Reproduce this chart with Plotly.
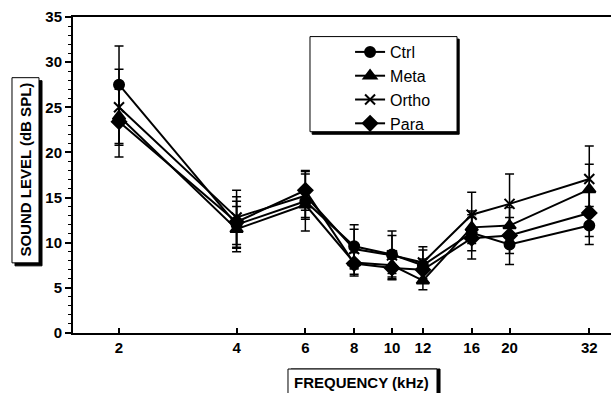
import plotly.graph_objects as go

freq = [2, 4, 6, 8, 10, 12, 16, 20, 32]
x_ticks = [2, 4, 6, 8, 10, 12, 16, 20, 32]
x_tick_labels = ["2", "4", "6", "8", "10", "12", "16", "20", "32"]

ctrl = [27.5, 12.0, 14.6, 9.6, 8.7, 7.5, 11.1, 9.8, 11.9]
ctrl_err = [4.3, 2.6, 3.3, 2.4, 2.1, 1.7, 2.0, 2.2, 2.1]
meta = [24.0, 11.5, 14.2, 7.8, 7.5, 5.8, 11.7, 11.9, 15.9]
meta_err = [3.0, 2.5, 1.6, 1.5, 1.5, 1.0, 1.8, 2.0, 2.8]
ortho = [25.0, 12.8, 15.2, 9.3, 8.6, 7.8, 13.1, 14.3, 17.05]
ortho_err = [4.2, 3.0, 2.4, 2.2, 2.7, 1.75, 2.5, 3.3, 3.65]
para = [23.4, 12.3, 15.8, 7.7, 7.2, 7.0, 10.5, 10.8, 13.3]
para_err = [3.9, 2.8, 2.2, 1.2, 1.0, 1.2, 2.3, 2.0, 2.6]

series = [
    ("Ctrl", ctrl, ctrl_err, "circle", 10),
    ("Meta", meta, meta_err, "triangle-up", 11),
    ("Ortho", ortho, ortho_err, "x-thin", 10),
    ("Para", para, para_err, "diamond", 11),
]

fig = go.Figure()
for name, vals, errs, sym, size in series:
    fig.add_trace(go.Scatter(
        x=freq, y=vals, name=name, mode="lines+markers",
        line=dict(color="black", width=2),
        marker=dict(symbol=sym, size=size, color="black",
                    line=dict(color="black", width=2)),
        error_y=dict(type="data", array=errs, visible=True,
                     color="black", thickness=1.5, width=4.5),
    ))

font_main = "Liberation Sans, Arial, sans-serif"

fig.update_layout(
    width=611, height=393,
    margin=dict(l=73, r=0, t=17, b=60),
    paper_bgcolor="white", plot_bgcolor="white",
    showlegend=True,
    legend=dict(x=0.515, y=0.943, xanchor="left", yanchor="top",
                bgcolor="rgba(0,0,0,0)", borderwidth=0,
                font=dict(family=font_main, size=16, color="black"),
                tracegroupgap=0),
    xaxis=dict(type="log", range=[0.1832, 1.5608], automargin=False,
               tickvals=x_ticks, ticktext=x_tick_labels,
               ticks="inside", ticklen=5, tickwidth=1.5, tickcolor="black",
               showline=True, linecolor="black", linewidth=2, mirror=True,
               showgrid=False, zeroline=False,
               tickfont=dict(family=font_main, size=15, color="black", weight="bold")),
    yaxis=dict(range=[0, 35], tickvals=[0, 5, 10, 15, 20, 25, 30, 35], automargin=False,
               ticks="outside", ticklen=6, tickwidth=1.5, tickcolor="black",
               minor=dict(dtick=1, ticks="outside", ticklen=3.5, tickwidth=1, tickcolor="black"),
               showline=True, linecolor="black", linewidth=2,
               showgrid=False, zeroline=False,
               tickfont=dict(family=font_main, size=15, color="black", weight="bold")),
)


def boxed(x0, x1, y0, y1, dx, dy):
    # shadow then white box (paper coordinates; dx, dy in paper units)
    fig.add_shape(type="rect", xref="paper", yref="paper",
                  x0=x0 + dx, x1=x1 + dx, y0=y0 - dy, y1=y1 - dy,
                  fillcolor="black", line=dict(color="black", width=1), layer="above")
    fig.add_shape(type="rect", xref="paper", yref="paper",
                  x0=x0, x1=x1, y0=y0, y1=y1,
                  fillcolor="white", line=dict(color="black", width=1), layer="above")


# legend box
boxed(0.4405, 0.7138, 0.637, 0.938, 0.004, 0.008)
# y title box
boxed(-0.1134, -0.0632, 0.222, 0.808, 0.0056, 0.0095)
# x title box
boxed(0.3996, 0.6766, -0.2, -0.114, 0.0056, 0.0)

title_font = dict(family=font_main, size=15, color="black", weight="bold")

fig.add_annotation(
    text="SOUND LEVEL (dB SPL)", textangle=-90,
    xref="paper", yref="paper", x=-0.0874, y=0.517,
    xanchor="center", yanchor="middle", showarrow=False,
    font=title_font,
)
fig.add_annotation(
    text="FREQUENCY (kHz)",
    xref="paper", yref="paper", x=0.537, y=-0.158,
    xanchor="center", yanchor="middle", showarrow=False,
    font=title_font,
)

fig.write_html("out.html", config={"displayModeBar": False},
               post_script="document.body.style.margin='0px';document.body.style.overflow='hidden';")
